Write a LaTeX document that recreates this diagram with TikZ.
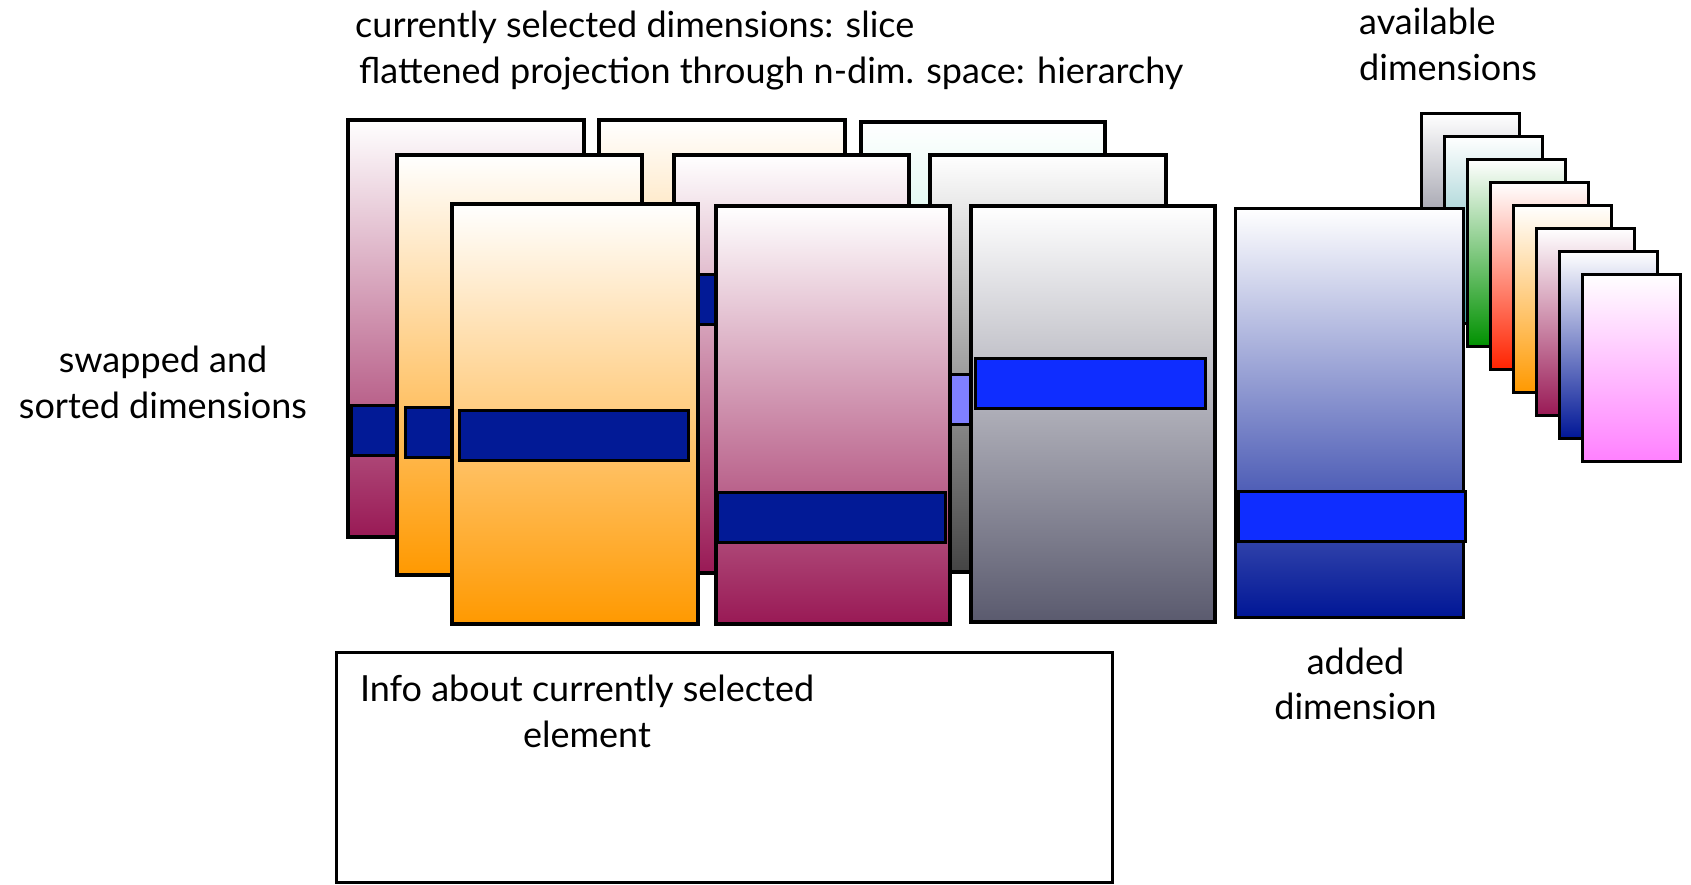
\documentclass[tikz,border=0pt]{standalone}
\usepackage{fontspec}
\setmainfont{Lato}
\usetikzlibrary{positioning}
\definecolor{barnavy}{RGB}{2,26,150}
\definecolor{barblue}{RGB}{15,45,255}
\definecolor{barlight}{RGB}{128,128,255}
\definecolor{maroonc}{RGB}{153,25,85}
\definecolor{amberc}{RGB}{255,153,0}
\definecolor{mintc}{RGB}{120,225,195}
\definecolor{graydk}{RGB}{68,68,68}
\definecolor{slatec}{RGB}{90,90,110}
\definecolor{navyc}{RGB}{0,22,150}
\definecolor{tealc}{RGB}{60,160,165}
\definecolor{leafc}{RGB}{0,145,0}
\definecolor{scarletc}{RGB}{255,35,0}
\definecolor{orchidc}{RGB}{255,128,255}
\tikzset{
  card/.style={draw=black,line width=3.4pt,anchor=north west,inner sep=0pt,
               outer sep=0pt,top color=white},
  mini/.style={card,minimum width=98pt,minimum height=187pt},
  bar/.style={draw=black,line width=3.4pt,anchor=north west,inner sep=0pt,
              outer sep=0pt,minimum height=50pt},
  lbl/.style={anchor=north,inner sep=0pt,align=center,
              font=\fontsize{36}{45.5}\selectfont},
}

\begin{document}
\begin{tikzpicture}[x=1pt,y=-1pt]
  \useasboundingbox (0,0) rectangle (1691,885);

  % back row
  \node[card,bottom color=maroonc,minimum width=236pt,minimum height=417pt] (c1a) at (348,120) {};
  \node[bar,fill=barnavy,minimum width=224pt] (b1a) at (351.5,405.5) {};
  \node[card,bottom color=amberc,minimum width=246pt,minimum height=418pt] (c2a) at (599,120) {};
  \node[card,bottom color=mintc,minimum width=244pt,minimum height=417pt] (c3a) at (861,122) {};

  % middle row
  \node[card,bottom color=amberc,minimum width=245pt,minimum height=420pt] (c1b) at (397,155) {};
  \node[bar,fill=barnavy,minimum width=228pt] (b1b) at (405.5,407.5) {};
  \node[card,bottom color=maroonc,minimum width=235pt,minimum height=418pt] (c2b) at (674,155) {};
  \node[bar,fill=barnavy,minimum width=228pt] (b2b) at (676,274.5) {};
  \node[card,bottom color=graydk,minimum width=236pt,minimum height=417pt] (c3b) at (930,155) {};
  \node[bar,fill=barlight,minimum width=228pt] (b3b) at (933,374.5) {};

  % front row
  \node[card,bottom color=amberc,minimum width=246pt,minimum height=420pt] (c1c) at (452,204) {};
  \node[bar,fill=barnavy,minimum width=229pt] (b1c) at (459.5,410.5) {};
  \node[card,bottom color=maroonc,minimum width=234pt,minimum height=418pt] (c2c) at (716,206) {};
  \node[bar,fill=barnavy,minimum width=228pt] (b2c) at (717.5,492.5) {};
  \node[card,bottom color=slatec,minimum width=244pt,minimum height=416pt] (c3c) at (971,206) {};
  \node[bar,fill=barblue,minimum width=230pt] (b3c) at (975.5,358.5) {};

  % available dimensions
  \foreach \col [count=\i from 0] in {slatec,tealc,leafc,scarletc,amberc,maroonc,navyc,orchidc}
    \node[mini,bottom color=\col] (av\i) at ({1421.5+23*\i},{113.5+23*\i}) {};

  % added dimension
  \node[card,bottom color=navyc,minimum width=228pt,minimum height=409pt] (c4) at (1235.5,208.5) {};
  \node[bar,fill=barblue,minimum width=227pt] (b4) at (1238.5,491.5) {};

  % info panel
  \node[draw=black,line width=3.4pt,anchor=north west,inner sep=0pt,
        minimum width=776pt,minimum height=230pt] (infobox) at (334.5,650.5) {};

  \node[lbl,anchor=north west,align=left] (topnote) at (355,11)
    {currently selected dimensions: slice\\\hspace*{4pt}flattened projection through n-dim. space: hierarchy};
  \node[lbl,anchor=north west,align=left] (availnote) at (1359,8) {available\\dimensions};
  \node[lbl] (swapnote) at (163,346) {swapped and\\sorted dimensions};
  \node[lbl,below=30pt of c4,xshift=6pt] (addnote) {added\\dimension};
  \node[lbl] (infonote) at (587,675) {Info about currently selected\\element};
\end{tikzpicture}
\end{document}
